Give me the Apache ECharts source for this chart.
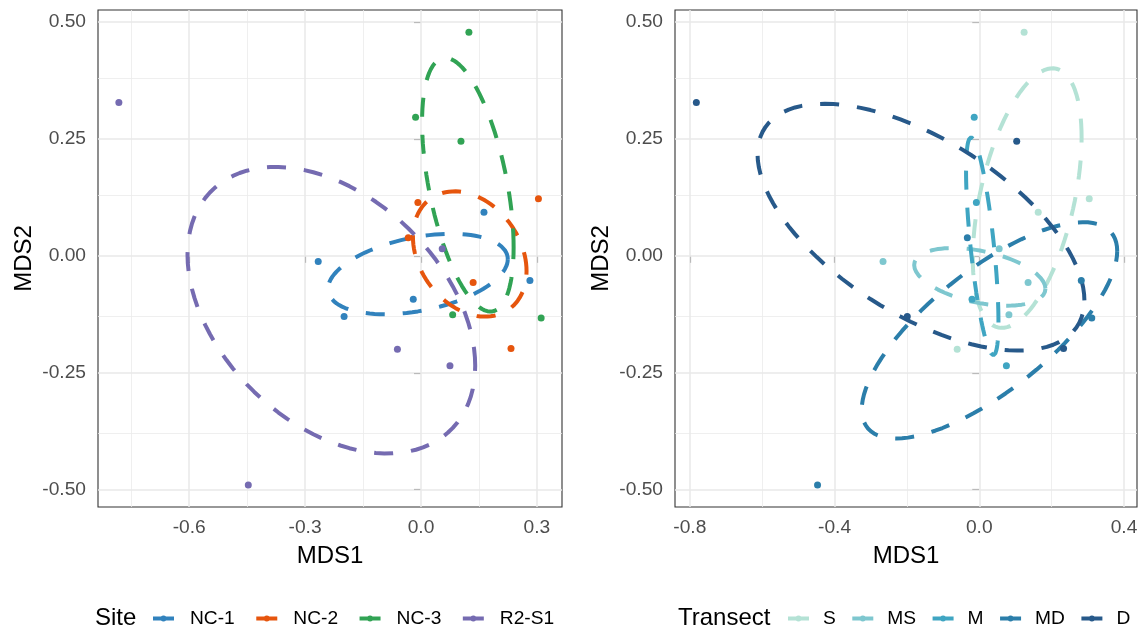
<!DOCTYPE html>
<html><head><meta charset="utf-8">
<script src="https://cdn.jsdelivr.net/npm/echarts@6/dist/echarts.min.js"></script>
<style>html,body{margin:0;padding:0;background:#fff}#c{width:1141px;height:631px}</style>
</head><body><div id="c"></div>
<script>
// ---- data ----
const sites = ['NC-1', 'NC-2', 'NC-3', 'R2-S1'];
const transects = ['S', 'MS', 'M', 'MD', 'D'];
// one sample per site x transect
const sampleSite     = ['NC-1','NC-1','NC-1','NC-1','NC-1','NC-2','NC-2','NC-2','NC-2','NC-2','NC-3','NC-3','NC-3','NC-3','NC-3','R2-S1','R2-S1','R2-S1','R2-S1','R2-S1'];
const sampleTransect = ['S','MS','M','MD','D','S','MS','M','MD','D','S','MS','M','MD','D','S','MS','M','MD','D'];
const mds1 = [0.163, -0.266, -0.020, 0.282, -0.199,   0.304, 0.135, -0.008, -0.033, 0.233,   0.124, 0.082, -0.014, 0.311, 0.1035,   -0.061, 0.055, 0.075, -0.447, -0.782];
const mds2 = [0.093, -0.012, -0.093, -0.053, -0.130,  0.122, -0.057, 0.114, 0.0385, -0.198,   0.478, -0.126, 0.296, -0.133, 0.245,   -0.1995, 0.015, -0.235, -0.490, 0.328];
const xTicksLeft  = [-0.6, -0.3, 0.0, 0.3];
const xMinorLeft  = [-0.75, -0.45, -0.15, 0.15];
const xTicksRight = [-0.8, -0.4, 0.0, 0.4];
const xMinorRight = [-0.6, -0.2, 0.2];
const yTicks = [-0.5, -0.25, 0.0, 0.25, 0.5];
const yMinor = [-0.375, -0.125, 0.125, 0.375];

// ---- styles ----
const FONT = '"Liberation Sans", Arial, Helvetica, sans-serif';
const siteColors = ['#3182bd', '#e6550d', '#31a354', '#756bb1'];
const transectColors = ['#b4e2d5', '#7ec7cf', '#3fa5c2', '#2b7eaa', '#27598a'];
const ICON = 'path://M0,1.5 L21,1.5 L21,5.5 L0,5.5 Z M13.5,3.5 A3,3 0 1,1 7.5,3.5 A3,3 0 1,1 13.5,3.5 Z';

// standard-deviation ellipse (as vegan::ordiellipse kind="sd")
function sdEllipse(xs, ys, npoints) {
  const n = xs.length;
  const mx = xs.reduce((a, b) => a + b, 0) / n;
  const my = ys.reduce((a, b) => a + b, 0) / n;
  let sxx = 0, syy = 0, sxy = 0;
  for (let i = 0; i < n; i++) {
    const dx = xs[i] - mx, dy = ys[i] - my;
    sxx += dx * dx; syy += dy * dy; sxy += dx * dy;
  }
  sxx /= (n - 1); syy /= (n - 1); sxy /= (n - 1);
  const r11 = Math.sqrt(sxx), r12 = sxy / r11, r22 = Math.sqrt(syy - r12 * r12);
  const pts = [];
  for (let k = 0; k <= npoints; k++) {
    const t = 2 * Math.PI * k / npoints, c = Math.cos(t), s = Math.sin(t);
    pts.push([mx + c * r11, my + c * r12 + s * r22]);
  }
  return pts;
}

function groupPoints(groupArr, g) {
  const xs = [], ys = [];
  for (let i = 0; i < mds1.length; i++) if (groupArr[i] === g) { xs.push(mds1[i]); ys.push(mds2[i]); }
  return { xs, ys };
}

function makeX(gi, min, max, ticks) {
  return {
    type: 'value', gridIndex: gi, min: min, max: max,
    name: 'MDS1', nameLocation: 'middle', nameGap: 37,
    nameTextStyle: { fontSize: 24, color: '#000', fontFamily: FONT },
    axisLine: { show: false }, splitLine: { show: false },
    axisTick: { show: true, length: 7, customValues: ticks, lineStyle: { color: '#333', width: 1.1 } },
    axisLabel: { customValues: ticks, formatter: v => Number(v).toFixed(1), fontSize: 19.2, color: '#4d4d4d', margin: 11.5, fontFamily: FONT }
  };
}
function makeY(gi) {
  return {
    type: 'value', gridIndex: gi, min: -0.537, max: 0.5255,
    name: 'MDS2', nameLocation: 'middle', nameGap: 62,
    nameTextStyle: { fontSize: 24, color: '#000', fontFamily: FONT },
    axisLine: { show: false }, splitLine: { show: false },
    axisTick: { show: true, length: 7, customValues: yTicks, lineStyle: { color: '#333', width: 1.1 } },
    axisLabel: { customValues: yTicks, formatter: v => Number(v).toFixed(2), fontSize: 19.2, color: '#4d4d4d', margin: 12, fontFamily: FONT }
  };
}
function gridSeries(gi, xMajor, xMinor) {
  const base = { type: 'line', xAxisIndex: gi, yAxisIndex: gi, data: [], silent: true };
  return [
    Object.assign({}, base, { markLine: { z: 1, silent: true, animation: false, symbol: ['none', 'none'], label: { show: false },
      lineStyle: { color: '#ebebeb', width: 0.8, type: 'solid' },
      data: xMinor.map(v => ({ xAxis: v })).concat(yMinor.map(v => ({ yAxis: v }))) } }),
    Object.assign({}, base, { markLine: { z: 1, silent: true, animation: false, symbol: ['none', 'none'], label: { show: false },
      lineStyle: { color: '#e8e8e8', width: 1.5, type: 'solid' },
      data: xMajor.map(v => ({ xAxis: v })).concat(yTicks.map(v => ({ yAxis: v }))) } })
  ];
}

const series = [];
series.push(...gridSeries(0, xTicksLeft, xMinorLeft));
series.push(...gridSeries(1, xTicksRight, xMinorRight));

function addGroups(groups, colors, groupArr, gi) {
  groups.forEach((g, k) => {
    const p = groupPoints(groupArr, g);
    series.push({
      type: 'scatter', name: g, xAxisIndex: gi, yAxisIndex: gi, z: 4,
      symbolSize: 7, itemStyle: { color: colors[k], opacity: 1 },
      data: p.xs.map((x, i) => [x, p.ys[i]])
    });
  });
  groups.forEach((g, k) => {
    const p = groupPoints(groupArr, g);
    series.push({
      type: 'line', name: g, xAxisIndex: gi, yAxisIndex: gi, z: 3,
      showSymbol: false, symbol: 'none', smooth: false,
      itemStyle: { color: colors[k] },
      lineStyle: { color: colors[k], width: 4, type: [19, 18], cap: 'butt' },
      data: sdEllipse(p.xs, p.ys, 100)
    });
  });
}
addGroups(sites, siteColors, sampleSite, 0);
addGroups(transects, transectColors, sampleTransect, 1);

const legendCommon = {
  orient: 'horizontal', padding: 0, itemWidth: 21, itemHeight: 7, icon: ICON,
  selectedMode: false, top: 609
};

const option = {
  animation: false,
  backgroundColor: '#fff',
  textStyle: { fontFamily: FONT },
  title: [
    { text: 'Site', left: 95, top: 606, padding: 0, textStyle: { fontSize: 24, fontWeight: 'normal', color: '#000', fontFamily: FONT } },
    { text: 'Transect', left: 678, top: 606, padding: 0, textStyle: { fontSize: 24, fontWeight: 'normal', color: '#000', fontFamily: FONT } }
  ],
  grid: [
    { left: 98, top: 10, width: 464, height: 497, show: true, borderColor: '#333', borderWidth: 1.1, backgroundColor: '#fff' },
    { left: 675, top: 10, width: 462, height: 497, show: true, borderColor: '#333', borderWidth: 1.1, backgroundColor: '#fff' }
  ],
  xAxis: [makeX(0, -0.836, 0.365, xTicksLeft), makeX(1, -0.841, 0.436, xTicksRight)],
  yAxis: [makeY(0), makeY(1)],
  legend: [
    Object.assign({}, legendCommon, { left: 153, itemGap: 21.5, data: sites,
      textStyle: { fontSize: 19.2, color: '#000', fontFamily: FONT, padding: [0, 0, 0, 11] } }),
    Object.assign({}, legendCommon, { left: 788, width: 350, itemGap: 16.5, data: transects,
      textStyle: { fontSize: 19.2, color: '#000', fontFamily: FONT, padding: [0, 0, 0, 9] } })
  ],
  series: series
};

const chart = echarts.init(document.getElementById('c'), null, { renderer: 'canvas', devicePixelRatio: 1 });
chart.setOption(option);
</script>
</body></html>
